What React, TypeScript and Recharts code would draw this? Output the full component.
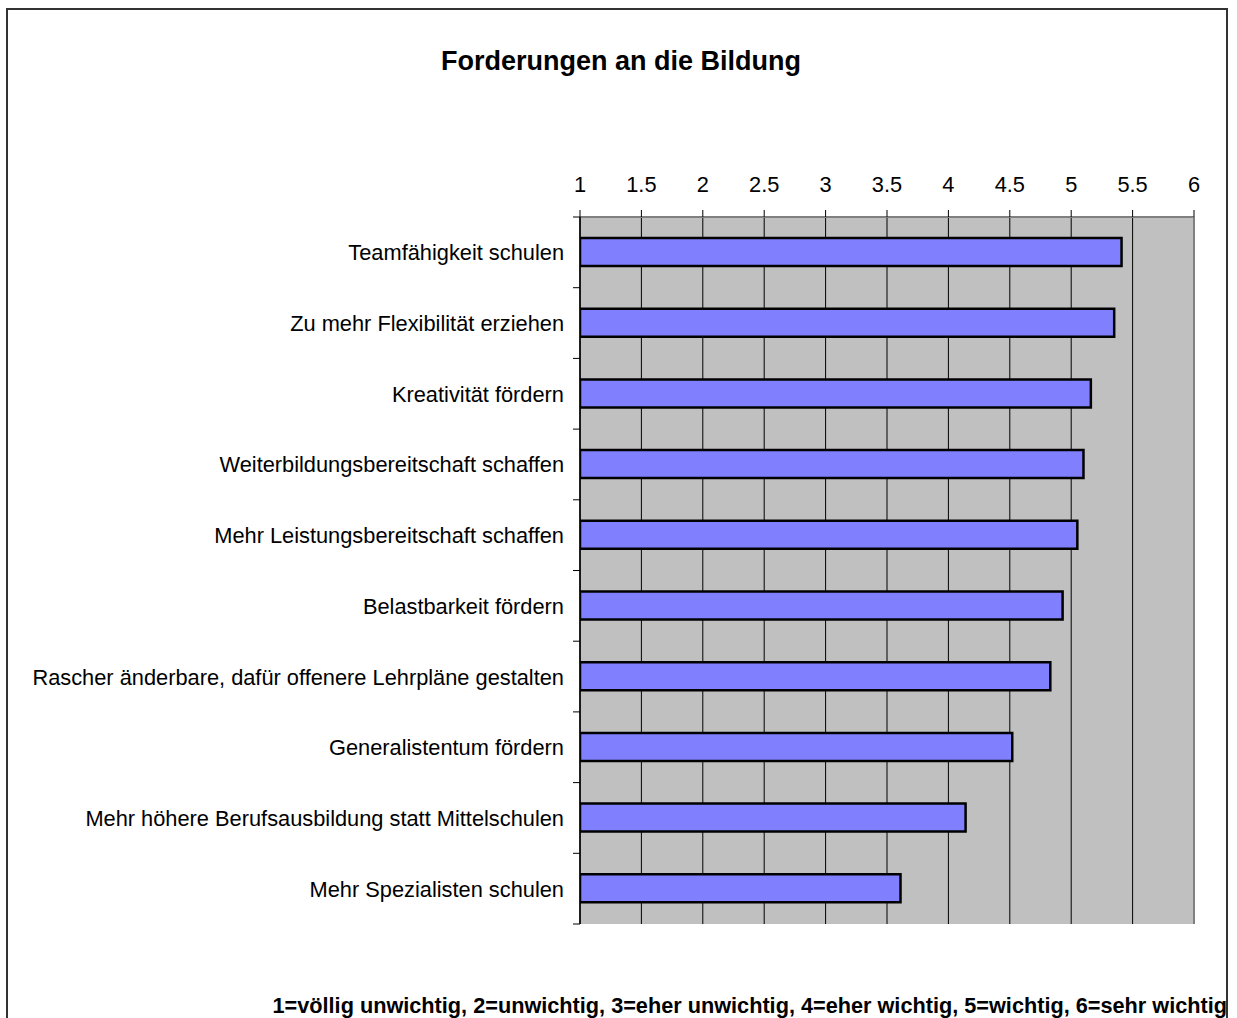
import React from "react";
import {
  BarChart,
  Bar,
  XAxis,
  YAxis,
  CartesianGrid,
  ReferenceLine,
} from "recharts";

const categories = [
  "Teamfähigkeit schulen",
  "Zu mehr Flexibilität erziehen",
  "Kreativität fördern",
  "Weiterbildungsbereitschaft schaffen",
  "Mehr Leistungsbereitschaft schaffen",
  "Belastbarkeit fördern",
  "Rascher änderbare, dafür offenere Lehrpläne gestalten",
  "Generalistentum fördern",
  "Mehr höhere Berufsausbildung statt Mittelschulen",
  "Mehr Spezialisten schulen",
];

const values = [5.41, 5.35, 5.16, 5.1, 5.05, 4.93, 4.83, 4.52, 4.14, 3.61];

const xTicks = [1, 1.5, 2, 2.5, 3, 3.5, 4, 4.5, 5, 5.5, 6];

const data = categories.map((name, i) => ({ name, value: values[i] }));

const W = 1237;
const H = 1018;
const MARGIN = { top: 177, right: 43, bottom: 94, left: 10 };
const X_AXIS_H = 40;
const PLOT_H = H - MARGIN.top - X_AXIS_H - MARGIN.bottom;
const BAND = PLOT_H / categories.length;
const FONT = "'Liberation Sans', Arial, sans-serif";

const CategoryTick = (props: any) => {
  const { x, y, payload, index } = props;
  const top = y - BAND / 2;
  return (
    <g>
      <line x1={x - 7} x2={x} y1={top} y2={top} stroke="#000" />
      {index === categories.length - 1 && (
        <line x1={x - 7} x2={x} y1={y + BAND / 2} y2={y + BAND / 2} stroke="#000" />
      )}
      <text
        x={x - 16}
        y={y}
        dy={8}
        textAnchor="end"
        fontSize={21.8}
        fontFamily={FONT}
        fill="#000"
      >
        {payload.value}
      </text>
    </g>
  );
};

const App = () => {
  return (
    <div
      style={{
        position: "absolute",
        left: 0,
        top: 0,
        width: W,
        height: H,
        overflow: "hidden",
        background: "#fff",
        fontFamily: FONT,
      }}
    >
      <div
        style={{
          position: "absolute",
          left: 6,
          top: 8,
          width: 1222,
          height: 1040,
          border: "2px solid #333",
          boxSizing: "border-box",
        }}
      />
      <div
        style={{
          position: "absolute",
          left: 0,
          width: 1242,
          top: 46,
          textAlign: "center",
          fontWeight: "bold",
          fontSize: 27,
        }}
      >
        Forderungen an die Bildung
      </div>
      <BarChart
        width={W}
        height={H}
        data={data}
        layout="vertical"
        margin={MARGIN}
        barCategoryGap={0}
        style={{ position: "absolute", left: 0, top: 0 }}
      >
        <CartesianGrid
          fill="#C0C0C0"
          fillOpacity={1}
          horizontal={false}
          stroke="#000"
          strokeOpacity={1}
        />
        <XAxis
          type="number"
          orientation="top"
          domain={[1, 6]}
          ticks={xTicks}
          height={X_AXIS_H}
          tickSize={7}
          tickMargin={18}
          tick={{ fontSize: 21.8, fill: "#000", fontFamily: FONT }}
          axisLine={{ stroke: "#808080", strokeWidth: 2 }}
          tickLine={{ stroke: "#000" }}
          allowDataOverflow
        />
        <XAxis
          xAxisId="bottom"
          type="number"
          orientation="bottom"
          domain={[1, 6]}
          height={0}
          tick={false}
          tickLine={false}
          axisLine={{ stroke: "#808080", strokeWidth: 2 }}
        />
        <YAxis
          type="category"
          dataKey="name"
          width={570}
          tickSize={0}
          tickMargin={0}
          tick={<CategoryTick />}
          axisLine={{ stroke: "#000", strokeWidth: 1.5 }}
          tickLine={false}
          interval={0}
        />
        <ReferenceLine x={6} stroke="#808080" strokeWidth={2} />
        <Bar
          dataKey="value"
          fill="#8080FF"
          stroke="#000"
          strokeWidth={2.5}
          barSize={28}
          isAnimationActive={false}
        />
      </BarChart>
      <div
        style={{
          position: "absolute",
          right: 10,
          top: 993,
          fontWeight: "bold",
          fontSize: 21.7,
          whiteSpace: "nowrap",
        }}
      >
        1=völlig unwichtig, 2=unwichtig, 3=eher unwichtig, 4=eher wichtig, 5=wichtig, 6=sehr wichtig
      </div>
    </div>
  );
};

export default App;
